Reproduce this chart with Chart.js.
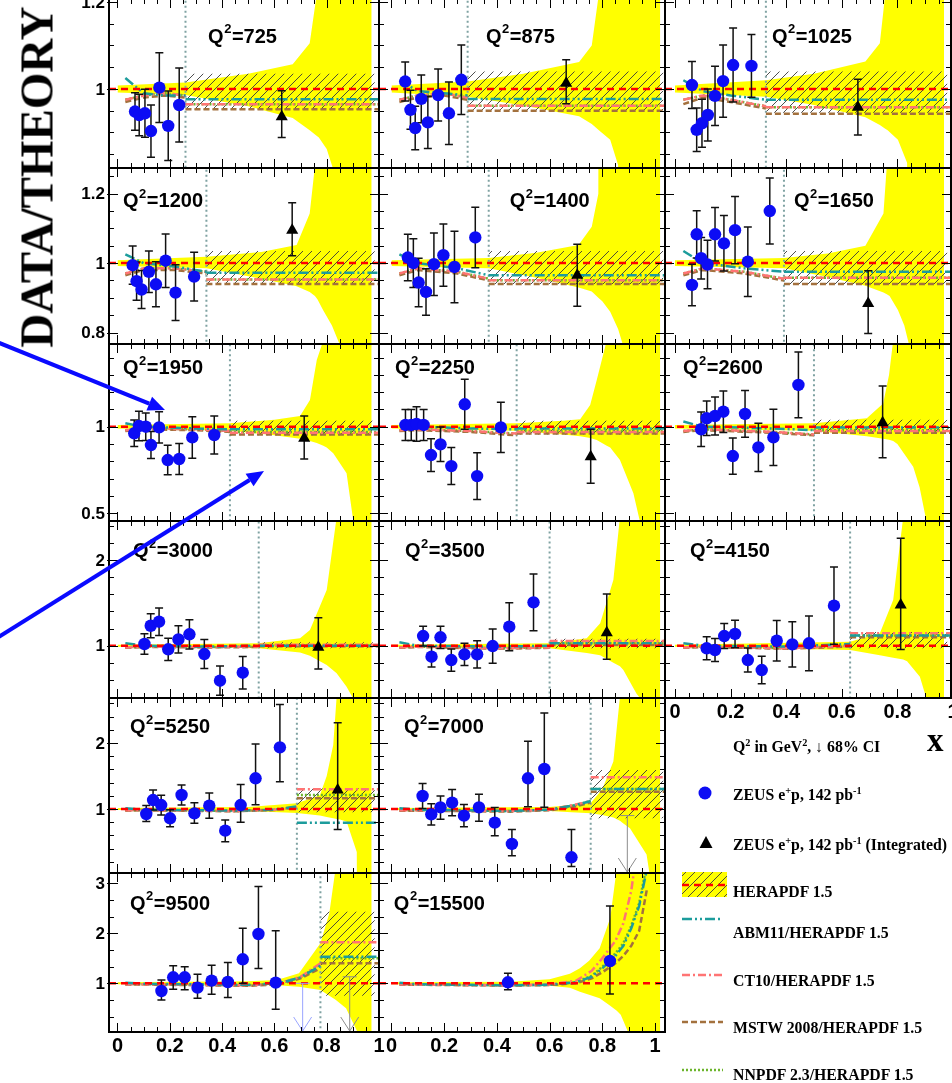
<!DOCTYPE html>
<html>
<head>
<meta charset="utf-8">
<title>ZEUS NC e+p high-x: data / theory</title>
<script src="https://cdn.jsdelivr.net/npm/chart.js@4.4.1/dist/chart.umd.min.js"></script>
<style>
  html, body { margin: 0; padding: 0; background: #fff; }
  body { position: relative; width: 952px; height: 1083px; overflow: hidden; }
  canvas.panel { position: absolute; }
  #overlay, #legendSymbols { position: absolute; pointer-events: none; }
  .lbl { position: absolute; white-space: nowrap; line-height: 1; color: #000; }
  .serif { font-family: "Liberation Serif", "Times New Roman", serif; font-weight: bold; }
  .lbl sup { font-size: 65%; vertical-align: baseline; position: relative; top: -0.55em; }
</style>
</head>
<body>
<script>
// ---- data ----
const q2 = [725, 875, 1025, 1200, 1400, 1650, 1950, 2250, 2600, 3000, 3500, 4150, 5250, 7000, 9500, 15500];
const panelRow = [0, 0, 0, 1, 1, 1, 2, 2, 2, 3, 3, 3, 4, 4, 5, 5];
const panelCol = [0, 1, 2, 0, 1, 2, 0, 1, 2, 0, 1, 2, 0, 1, 0, 1];

// ZEUS e+p points (blue circles)
const zeusX = [
  [0.067, 0.083, 0.105, 0.128, 0.160, 0.194, 0.236],
  [0.052, 0.072, 0.090, 0.113, 0.138, 0.177, 0.218, 0.265],
  [0.061, 0.078, 0.097, 0.118, 0.144, 0.173, 0.209, 0.275],
  [0.058, 0.073, 0.092, 0.120, 0.147, 0.184, 0.222, 0.293],
  [0.062, 0.083, 0.103, 0.131, 0.161, 0.197, 0.239, 0.318],
  [0.061, 0.078, 0.094, 0.117, 0.144, 0.176, 0.216, 0.262, 0.341],
  [0.064, 0.082, 0.108, 0.128, 0.159, 0.192, 0.236, 0.286, 0.370],
  [0.053, 0.075, 0.095, 0.122, 0.150, 0.186, 0.227, 0.278, 0.325, 0.415],
  [0.094, 0.114, 0.144, 0.174, 0.208, 0.252, 0.300, 0.354, 0.444],
  [0.103, 0.127, 0.159, 0.194, 0.233, 0.275, 0.332, 0.392, 0.479],
  [0.120, 0.152, 0.186, 0.227, 0.277, 0.325, 0.384, 0.447, 0.539],
  [0.114, 0.144, 0.177, 0.216, 0.262, 0.312, 0.366, 0.422, 0.482, 0.572],
  [0.110, 0.136, 0.167, 0.201, 0.245, 0.294, 0.351, 0.412, 0.471, 0.528, 0.621],
  [0.118, 0.151, 0.186, 0.230, 0.275, 0.332, 0.392, 0.457, 0.518, 0.580, 0.683],
  [0.168, 0.213, 0.257, 0.306, 0.360, 0.422, 0.479, 0.539, 0.605],
  [0.442, 0.829]
];
const zeusY = [
  [0.948, 0.940, 0.944, 0.903, 1.003, 0.915, 0.963],
  [1.017, 0.952, 0.910, 0.977, 0.923, 0.986, 0.944, 1.021],
  [1.009, 0.906, 0.921, 0.940, 0.984, 1.018, 1.055, 1.053],
  [0.994, 0.948, 0.924, 0.975, 0.939, 1.007, 0.915, 0.961],
  [1.016, 1.000, 0.944, 0.917, 0.997, 1.023, 0.989, 1.074],
  [0.937, 1.083, 1.014, 0.996, 1.083, 1.057, 1.095, 1.004, 1.150],
  [0.962, 1.004, 1.000, 0.894, 0.996, 0.807, 0.813, 0.938, 0.952],
  [1.010, 1.010, 1.016, 1.010, 0.836, 0.898, 0.772, 1.130, 0.714, 0.996],
  [0.985, 1.049, 1.062, 1.087, 0.830, 1.074, 0.880, 0.938, 1.242],
  [1.020, 1.233, 1.280, 0.958, 1.074, 1.133, 0.903, 0.592, 0.685],
  [1.113, 0.872, 1.098, 0.833, 0.899, 0.899, 0.996, 1.222, 1.506],
  [0.970, 0.950, 1.113, 1.137, 0.833, 0.716, 1.058, 1.016, 1.028, 1.467],
  [0.924, 1.136, 1.060, 0.859, 1.212, 0.934, 1.051, 0.672, 1.060, 1.465, 1.934],
  [1.197, 0.919, 1.025, 1.096, 0.899, 1.025, 0.793, 0.470, 1.465, 1.606, 0.268],
  [0.846, 1.120, 1.120, 0.913, 1.053, 1.026, 1.480, 1.986, 1.013],
  [1.020, 1.446]
];
const zeusErrUp = [
  [0.043, 0.048, 0.055, 0.060, 0.080, 0.080, 0.085],
  [0.045, 0.045, 0.050, 0.055, 0.060, 0.060, 0.072, 0.080],
  [0.054, 0.050, 0.055, 0.060, 0.068, 0.083, 0.085, 0.072],
  [0.055, 0.055, 0.055, 0.060, 0.065, 0.077, 0.080, 0.070],
  [0.067, 0.070, 0.070, 0.067, 0.090, 0.090, 0.103, 0.087],
  [0.060, 0.068, 0.060, 0.070, 0.077, 0.080, 0.097, 0.100, 0.095],
  [0.077, 0.085, 0.080, 0.078, 0.090, 0.085, 0.090, 0.120, 0.110],
  [0.090, 0.090, 0.100, 0.090, 0.095, 0.100, 0.107, 0.145, 0.135, 0.145],
  [0.100, 0.100, 0.110, 0.120, 0.105, 0.135, 0.140, 0.163, 0.190],
  [0.120, 0.140, 0.160, 0.130, 0.160, 0.170, 0.170, 0.170, 0.190],
  [0.115, 0.120, 0.130, 0.130, 0.130, 0.160, 0.200, 0.280, 0.330],
  [0.135, 0.135, 0.145, 0.160, 0.140, 0.160, 0.235, 0.265, 0.320, 0.450],
  [0.130, 0.150, 0.150, 0.130, 0.150, 0.160, 0.190, 0.160, 0.310, 0.520, 0.650],
  [0.190, 0.160, 0.170, 0.200, 0.170, 0.200, 0.230, 0.220, 0.560, 0.850, 0.420],
  [0.220, 0.230, 0.210, 0.270, 0.310, 0.390, 0.620, 0.950, 1.040],
  [0.180, 1.100]
];
// lower errors where they differ from the upper ones (null = symmetric)
const zeusErrDn = [
  null, null, null, null, null, null, null, null, null, null, null, null,
  [0.115, 0.150, 0.150, 0.130, 0.150, 0.150, 0.190, 0.170, 0.260, 0.400, 0.520],
  [0.190, 0.160, 0.180, 0.200, 0.170, 0.210, 0.200, 0.180, 0.430, 0.580, 0.140],
  [0.180, 0.240, 0.250, 0.210, 0.270, 0.310, 0.480, 0.690, 0.530],
  [0.150, 0.660]
];

// integrated high-x bin (black triangles)
const intX = [0.628, 0.663, 0.658, 0.668, 0.705, 0.695, 0.714, 0.756, 0.747, 0.768, 0.817, 0.812, 0.842, null, null, null];
const intY = [0.936, 1.013, 0.958, 1.095, 0.965, 0.884, 0.933, 0.826, 1.023, 0.981, 1.152, 1.475, 1.288, null, null, null];
const intErrUp = [0.060, 0.054, 0.064, 0.079, 0.089, 0.094, 0.129, 0.159, 0.213, 0.346, 0.450, 0.780, 1.020, null, null, null];
const intErrDn = [0.048, 0.047, 0.064, 0.074, 0.089, 0.087, 0.120, 0.154, 0.203, 0.253, 0.310, 0.520, 0.600, null, null, null];

// 68% CI upper limits (arrows)
const limitX = [[], [], [], [], [], [], [], [], [], [], [], [], [], [0.895], [0.708, 0.888], []];
const limitY = [[], [], [], [], [], [], [], [], [], [], [], [], [], [0.90], [1.0, 1.13], []];
const limitKind = [[], [], [], [], [], [], [], [], [], [], [], [], [], ['int'], ['bin', 'int'], []];

// start of the integrated bin (dotted line)
const xCut = [0.26, 0.289, 0.327, 0.34, 0.369, 0.392, 0.43, 0.475, 0.50, 0.54, 0.60, 0.63, 0.686, 0.756, 0.776, null];

// HERAPDF 1.5 uncertainty band (yellow)
const bandX = [
  [0, 0.26, 0.5, 0.67, 0.735, 0.76, 0.77, 0.8, 0.825, 0.84, 0.972],
  [0, 0.289, 0.5, 0.712, 0.76, 0.785, 0.795, 0.83, 0.86, 0.875, 1.02],
  [0, 0.327, 0.5, 0.685, 0.737, 0.755, 0.765, 0.802, 0.835, 0.845, 0.968],
  [0, 0.34, 0.55, 0.685, 0.735, 0.755, 0.765, 0.786, 0.82, 0.85, 0.86, 0.972],
  [0, 0.369, 0.55, 0.71, 0.76, 0.785, 0.8, 0.83, 0.86, 0.878, 0.89, 1.02],
  [0, 0.392, 0.55, 0.685, 0.75, 0.762, 0.772, 0.802, 0.825, 0.842, 0.855, 0.968],
  [0, 0.43, 0.6, 0.698, 0.736, 0.762, 0.787, 0.8, 0.825, 0.876, 0.902, 0.915, 0.972],
  [0, 0.475, 0.65, 0.716, 0.754, 0.779, 0.817, 0.83, 0.867, 0.918, 0.943, 0.955, 1.02],
  [0, 0.5, 0.69, 0.749, 0.77, 0.785, 0.8, 0.857, 0.88, 0.905, 0.915, 0.968],
  [0, 0.54, 0.698, 0.736, 0.8, 0.838, 0.85, 0.876, 0.902, 0.915, 0.972],
  [0, 0.6, 0.741, 0.792, 0.842, 0.867, 0.88, 0.93, 0.945, 0.955, 1.02],
  [0, 0.63, 0.737, 0.785, 0.821, 0.835, 0.881, 0.905, 0.915, 0.968],
  [0, 0.5, 0.686, 0.774, 0.8, 0.825, 0.838, 0.85, 0.876, 0.915, 0.925, 0.972],
  [0, 0.6, 0.683, 0.756, 0.8, 0.842, 0.867, 0.88, 0.905, 0.968, 0.98, 0.99, 1.02],
  [0, 0.5, 0.61, 0.694, 0.776, 0.81, 0.834, 0.874, 0.92, 0.93, 0.972],
  [0, 0.45, 0.6, 0.677, 0.715, 0.75, 0.79, 0.83, 0.855, 0.87, 0.9, 0.91, 1.02]
];
const bandHi = [
  [1.008, 1.015, 1.035, 1.057, 1.105, 1.21, 9, 9, 9, 9, 9],
  [1.008, 1.017, 1.035, 1.062, 1.1, 1.21, 9, 9, 9, 9, 9],
  [1.008, 1.02, 1.035, 1.063, 1.105, 1.21, 9, 9, 9, 9, 9],
  [1.008, 1.018, 1.032, 1.052, 1.143, 1.28, 9, 9, 9, 9, 9, 9],
  [1.008, 1.015, 1.03, 1.052, 1.105, 1.2, 9, 9, 9, 9, 9, 9],
  [1.008, 1.015, 1.028, 1.05, 1.143, 1.28, 9, 9, 9, 9, 9, 9],
  [1.01, 1.02, 1.04, 1.062, 1.155, 1.386, 1.5, 9, 9, 9, 9, 9, 9],
  [1.01, 1.02, 1.035, 1.043, 1.126, 1.27, 1.5, 9, 9, 9, 9, 9, 9],
  [1.01, 1.02, 1.049, 1.135, 1.3, 1.5, 9, 9, 9, 9, 9, 9],
  [1.012, 1.03, 1.086, 1.183, 1.65, 2.5, 9, 9, 9, 9, 9],
  [1.012, 1.03, 1.086, 1.261, 1.767, 2.5, 9, 9, 9, 9, 9],
  [1.012, 1.047, 1.145, 1.533, 2.5, 9, 9, 9, 9, 9],
  [1.015, 1.03, 1.086, 1.21, 1.5, 1.97, 2.7, 9, 9, 9, 9, 9],
  [1.015, 1.03, 1.06, 1.09, 1.3, 1.72, 2.7, 9, 9, 9, 9, 9, 9],
  [1.02, 1.04, 1.066, 1.2, 1.8, 2.4, 3.3, 9, 9, 9, 9],
  [1.02, 1.03, 1.08, 1.19, 1.3, 1.45, 1.7, 2.3, 3.3, 9, 9, 9, 9]
];
const bandLo = [
  [0.992, 0.986, 0.96, 0.933, 0.905, 0.893, 0.888, 0.862, 0.815, -9, -9],
  [0.992, 0.982, 0.962, 0.937, 0.919, 0.906, 0.901, 0.883, 0.825, -9, -9],
  [0.992, 0.982, 0.963, 0.935, 0.917, 0.909, 0.905, 0.883, 0.83, -9, -9],
  [0.992, 0.985, 0.955, 0.933, 0.917, 0.905, 0.895, 0.865, 0.82, 0.765, -9, -9],
  [0.992, 0.985, 0.958, 0.93, 0.918, 0.9, 0.89, 0.86, 0.81, 0.765, -9, -9],
  [0.992, 0.985, 0.96, 0.935, 0.915, 0.91, 0.905, 0.865, 0.82, 0.765, -9, -9],
  [0.99, 0.977, 0.95, 0.93, 0.918, 0.905, 0.89, 0.88, 0.846, 0.73, 0.45, -9, -9],
  [0.99, 0.977, 0.955, 0.945, 0.935, 0.923, 0.89, 0.88, 0.807, 0.614, 0.45, -9, -9],
  [0.99, 0.977, 0.945, 0.93, 0.925, 0.918, 0.9, 0.768, 0.65, 0.45, -9, -9],
  [0.988, 0.97, 0.92, 0.882, 0.774, 0.68, 0.63, 0.52, 0.38, -9, -9],
  [0.988, 0.97, 0.915, 0.89, 0.8, 0.76, 0.716, 0.44, 0.38, -9, -9],
  [0.988, 0.95, 0.89, 0.86, 0.84, 0.82, 0.638, 0.38, -9, -9],
  [0.985, 0.97, 0.94, 0.9, 0.88, 0.86, 0.85, 0.84, 0.81, 0.35, -9, -9],
  [0.985, 0.97, 0.95, 0.935, 0.91, 0.87, 0.82, 0.78, 0.71, 0.31, 0.0, -9, -9],
  [0.98, 0.97, 0.96, 0.93, 0.866, 0.75, 0.67, 0.5, 0.0, -9, -9],
  [0.98, 0.97, 0.95, 0.91, 0.83, 0.77, 0.7, 0.55, 0.45, 0.37, 0.0, -9, -9]
];

// hatched HERAPDF uncertainty of the integrated bin
const hatchLo = [0.953, 0.95, 0.945, 0.94, 0.94, 0.94, 0.95, 0.955, 0.96, 0.97, 0.97, 0.97, 0.95, 0.86, 0.75, null];
const hatchHi = [1.035, 1.04, 1.04, 1.035, 1.035, 1.035, 1.035, 1.035, 1.04, 1.04, 1.08, 1.16, 1.31, 1.59, 2.43, null];

// other PDFs divided by HERAPDF 1.5, per-bin part (below the cut)
const theoryX = [
  [0.03, 0.10, 0.18, 0.26],
  [0.03, 0.10, 0.20, 0.289],
  [0.03, 0.10, 0.20, 0.327],
  [0.03, 0.10, 0.22, 0.34],
  [0.03, 0.10, 0.25, 0.369],
  [0.03, 0.10, 0.25, 0.392],
  [0.03, 0.10, 0.30, 0.43],
  [0.03, 0.10, 0.30, 0.475],
  [0.03, 0.10, 0.35, 0.50],
  [0.03, 0.10, 0.35, 0.54],
  [0.03, 0.10, 0.40, 0.60],
  [0.03, 0.10, 0.40, 0.63],
  [0.03, 0.10, 0.45, 0.60, 0.686],
  [0.03, 0.10, 0.45, 0.60, 0.70, 0.756],
  [0.03, 0.10, 0.50, 0.62, 0.70, 0.776],
  [0.03, 0.10, 0.45, 0.60, 0.70, 0.76, 0.80, 0.85, 0.88, 0.91, 0.94, 0.97]
];
const abmY = [
  [1.025, 0.990, 0.985, 0.985],
  [1.020, 0.995, 0.990, 0.985],
  [1.020, 0.995, 0.985, 0.975],
  [1.025, 1.000, 0.990, 0.975],
  [1.025, 1.000, 0.985, 0.965],
  [1.035, 1.000, 0.985, 0.975],
  [1.020, 1.000, 0.990, 0.985],
  [1.010, 1.000, 0.990, 0.985],
  [1.030, 1.000, 0.990, 0.980],
  [1.030, 1.000, 0.990, 1.000],
  [1.040, 1.000, 0.990, 1.000],
  [1.030, 1.000, 0.990, 1.020],
  [1.010, 0.990, 0.975, 0.990, 1.040],
  [1.010, 0.990, 0.970, 0.990, 1.060, 1.120],
  [1.010, 0.990, 0.970, 1.000, 1.120, 1.350],
  [1.010, 0.980, 0.960, 0.970, 1.020, 1.130, 1.300, 1.550, 1.750, 2.100, 2.550, 3.300]
];
const ct10Y = [
  [0.975, 0.985, 0.990, 0.985],
  [0.975, 0.985, 0.990, 0.980],
  [0.975, 0.985, 0.975, 0.960],
  [0.970, 0.985, 0.985, 0.975],
  [0.970, 0.985, 0.975, 0.955],
  [0.970, 0.985, 0.975, 0.955],
  [0.980, 0.990, 0.985, 0.975],
  [0.980, 0.985, 0.975, 0.960],
  [0.975, 0.985, 0.970, 0.955],
  [0.980, 0.990, 0.985, 0.990],
  [0.980, 0.990, 0.970, 0.980],
  [0.980, 0.990, 0.970, 1.000],
  [0.980, 0.985, 0.970, 0.990, 1.030],
  [0.980, 0.980, 0.970, 0.990, 1.070, 1.120],
  [0.980, 0.980, 0.960, 1.000, 1.130, 1.400],
  [0.980, 0.975, 0.960, 0.980, 1.050, 1.250, 1.500, 1.850, 2.200, 2.850, 4.000, 5.000]
];
const mstwY = [
  [0.970, 0.980, 0.985, 0.980],
  [0.970, 0.980, 0.985, 0.975],
  [0.965, 0.980, 0.970, 0.955],
  [0.965, 0.980, 0.980, 0.970],
  [0.965, 0.980, 0.970, 0.950],
  [0.965, 0.980, 0.970, 0.950],
  [0.975, 0.985, 0.980, 0.970],
  [0.975, 0.980, 0.970, 0.950],
  [0.970, 0.980, 0.965, 0.950],
  [0.975, 0.985, 0.980, 0.985],
  [0.975, 0.985, 0.965, 0.975],
  [0.975, 0.985, 0.965, 0.990],
  [0.975, 0.980, 0.965, 0.985, 1.020],
  [0.975, 0.975, 0.960, 0.980, 1.040, 1.100],
  [0.975, 0.975, 0.950, 0.980, 1.100, 1.300],
  [0.975, 0.970, 0.955, 0.965, 1.000, 1.100, 1.220, 1.400, 1.550, 1.750, 2.050, 2.900]
];
const nnpdfY = [
  [0.975, 0.985, 0.990, 0.985],
  [0.975, 0.985, 0.990, 0.980],
  [0.975, 0.985, 0.975, 0.960],
  [0.970, 0.985, 0.985, 0.975],
  [0.970, 0.985, 0.975, 0.955],
  [0.970, 0.985, 0.975, 0.955],
  [0.980, 0.990, 0.985, 0.975],
  [0.980, 0.985, 0.975, 0.960],
  [0.975, 0.985, 0.970, 0.955],
  [0.980, 0.990, 0.985, 0.990],
  [0.980, 0.990, 0.970, 0.980],
  [0.980, 0.990, 0.970, 1.000],
  [0.980, 0.985, 0.970, 0.990, 1.030],
  [0.980, 0.980, 0.970, 0.990, 1.060, 1.120],
  [0.980, 0.980, 0.960, 1.000, 1.120, 1.380],
  [0.980, 0.975, 0.960, 0.970, 1.020, 1.150, 1.330, 1.600, 1.800, 2.150, 2.600, 3.400]
];
// value in the integrated bin (above the cut)
const abmFlat   = [0.976, 0.977, 0.975, 0.972, 0.965, 0.975, 0.985, 0.990, 0.995, 1.000, 1.030, 1.120, 0.793, 1.303, 1.533, null];
const ct10Flat  = [0.965, 0.961, 0.958, 0.953, 0.951, 0.958, 0.965, 0.970, 0.975, 1.010, 1.055, 1.145, 1.298, 1.480, 1.820, null];
const mstwFlat  = [0.953, 0.950, 0.943, 0.940, 0.940, 0.940, 0.955, 0.960, 0.965, 0.995, 1.008, 1.100, 1.162, 1.263, 1.400, null];
const nnpdfFlat = [0.965, 0.961, 0.958, 0.953, 0.951, 0.958, 0.970, 0.975, 0.980, 1.005, 1.030, 1.120, 1.212, 1.303, 1.500, null];

// axes
const colXMin = [-0.0325, -0.0474, -0.036];
const colXMax = [1.0, 1.038, 0.993];
const rowYMin = [0.818, 0.767, 0.454, 0.39, 0.03, 0.026];
const rowYMax = [1.207, 1.274, 1.479, 2.455, 2.682, 3.206];
const rowYMajor = [[0.8, 1, 1.2], [0.8, 1, 1.2], [0.5, 1], [1, 2], [1, 2], [1, 2, 3]];
const rowYMinor = [0.05, 0.05, 0.1, 0.2, 0.2, 1 / 3];
const xTickValues = [0, 0.2, 0.4, 0.6, 0.8, 1];
const bottomPanelOfCol = [14, 15, 11];

const legendLabels = [
  'Q<sup>2</sup> in GeV<sup>2</sup>, \u2193 68% CI',
  'ZEUS e<sup>+</sup>p, 142 pb<sup>-1</sup>',
  'ZEUS e<sup>+</sup>p, 142 pb<sup>-1</sup> (Integrated)',
  'HERAPDF 1.5',
  'ABM11/HERAPDF 1.5',
  'CT10/HERAPDF 1.5',
  'MSTW 2008/HERAPDF 1.5',
  'NNPDF 2.3/HERAPDF 1.5'
];

// ---- page geometry ----
const colLeft = [109, 379, 665], colRight = [379, 665, 951];
const rowTop = [-1, 168, 344, 521, 698, 873], rowBottom = [168, 344, 521, 698, 873, 1032];
const labelPos = [[.367, .23], [.374, .23], [.374, .23], [.052, .193], [.457, .193], [.451, .193],
  [.052, .141], [.056, .141], [.063, .141], [.089, .175], [.091, .175], [.087, .175],
  [.078, .171], [.087, .171], [.078, .2], [.052, .2]];
const PAD = { left: 48, right: 8, top: 8, bottom: 36 };

const SANS = '"Liberation Sans", Arial, Helvetica, sans-serif';
const COLORS = { band: '#ffff00', zeus: '#0c0cf4', hera: '#ff0000', abm: '#1c9c9c', ct10: '#ff7474', mstw: '#a3713e', nnpdf: '#6cb52c', cut: '#7fa2a2' };
const DASH = { hera: [7, 5], abm: [10, 3, 2, 3, 2, 3], ct10: [8, 3, 2, 3], mstw: [6, 3], nnpdf: [2, 2] };

function makeHatch() {
  const s = 9;
  const c = document.createElement('canvas');
  c.width = s; c.height = s;
  const g = c.getContext('2d');
  g.strokeStyle = '#3a3a3a';
  g.lineWidth = 0.9;
  g.beginPath();
  g.moveTo(0, s); g.lineTo(s, 0);
  g.moveTo(-1, 1); g.lineTo(1, -1);
  g.moveTo(s - 1, s + 1); g.lineTo(s + 1, s - 1);
  g.stroke();
  return g.createPattern(c, 'repeat');
}
const hatchPattern = makeHatch();

// error bars, limit arrows, frame, ticks and labels
const panelDecor = {
  id: 'panelDecor',
  beforeDatasetDraw(chart, args) {
    const ds = chart.data.datasets[args.index];
    if (!ds.errUp) return;
    const ctx = chart.ctx, xs = chart.scales.x, ys = chart.scales.y, a = chart.chartArea;
    ctx.save();
    ctx.beginPath();
    ctx.rect(a.left, a.top, a.right - a.left, a.bottom - a.top);
    ctx.clip();
    ctx.strokeStyle = '#111';
    ctx.lineWidth = 1.5;
    ds.data.forEach((pt, i) => {
      const px = xs.getPixelForValue(pt.x);
      const yHi = ys.getPixelForValue(pt.y + ds.errUp[i]);
      const yLo = ys.getPixelForValue(pt.y - ds.errDn[i]);
      ctx.beginPath();
      ctx.moveTo(px, yLo); ctx.lineTo(px, yHi);
      ctx.moveTo(px - 4, yLo); ctx.lineTo(px + 4, yLo);
      ctx.moveTo(px - 4, yHi); ctx.lineTo(px + 4, yHi);
      ctx.stroke();
    });
    ctx.restore();
  },
  afterDatasetsDraw(chart, args, opts) {
    const p = opts.p;
    const ctx = chart.ctx, xs = chart.scales.x, ys = chart.scales.y, a = chart.chartArea;
    ctx.save();
    ctx.lineWidth = 1;
    limitX[p].forEach((lx, i) => {
      const px = xs.getPixelForValue(lx), py = ys.getPixelForValue(limitY[p][i]);
      ctx.strokeStyle = limitKind[p][i] === 'bin' ? '#9aa5ff' : '#8c8c8c';
      ctx.beginPath();
      ctx.moveTo(px - 7, py); ctx.lineTo(px + 7, py);
      ctx.moveTo(px, py); ctx.lineTo(px, a.bottom - 1);
      ctx.moveTo(px - 9, a.bottom - 15); ctx.lineTo(px, a.bottom - 1); ctx.lineTo(px + 9, a.bottom - 15);
      ctx.stroke();
    });
    ctx.restore();
  },
  afterDraw(chart, args, opts) {
    const p = opts.p, r = panelRow[p], c = panelCol[p];
    const ctx = chart.ctx, xs = chart.scales.x, ys = chart.scales.y, a = chart.chartArea;
    ctx.save();
    ctx.strokeStyle = '#000';
    ctx.lineWidth = 1;
    ctx.beginPath();
    for (let k = 0; k <= 20; k++) {
      const px = Math.round(xs.getPixelForValue(k * 0.05)) + 0.5;
      if (px < a.left || px > a.right) continue;
      const len = k % 4 === 0 ? 9 : 5;
      ctx.moveTo(px, a.bottom); ctx.lineTo(px, a.bottom - len);
      ctx.moveTo(px, a.top); ctx.lineTo(px, a.top + len);
    }
    const step = rowYMinor[r];
    for (let k = Math.ceil(rowYMin[r] / step - 1e-9); k * step <= rowYMax[r] + 1e-9; k++) {
      const v = k * step;
      const py = Math.round(ys.getPixelForValue(v)) + 0.5;
      const major = rowYMajor[r].some(m => Math.abs(m - v) < 1e-6);
      const len = major ? 9 : 5;
      ctx.moveTo(a.left - (major ? 2 : 0), py); ctx.lineTo(a.left + len, py);
      ctx.moveTo(a.right, py); ctx.lineTo(a.right - len, py);
    }
    ctx.stroke();
    ctx.lineWidth = 2;
    ctx.strokeRect(a.left, a.top, a.right - a.left, a.bottom - a.top);

    ctx.fillStyle = '#000';
    if (c === 0) {
      ctx.font = 'bold 17px ' + SANS;
      ctx.textAlign = 'right';
      ctx.textBaseline = 'middle';
      rowYMajor[r].forEach(m => {
        if (m < rowYMin[r] - 0.01 || m > rowYMax[r] + 0.01) return;
        ctx.fillText(String(m), a.left - 4, ys.getPixelForValue(m) + 1);
      });
    }
    if (bottomPanelOfCol[c] === p) {
      ctx.font = 'bold 20px ' + SANS;
      ctx.textAlign = 'center';
      ctx.textBaseline = 'top';
      xTickValues.forEach(v => ctx.fillText(String(v), xs.getPixelForValue(v), a.bottom + 4));
    }
    // Q^2 label
    const lx = a.left + labelPos[p][0] * (a.right - a.left);
    const ly = a.top + labelPos[p][1] * (a.bottom - a.top);
    ctx.textAlign = 'left';
    ctx.textBaseline = 'middle';
    ctx.font = 'bold 20px ' + SANS;
    ctx.fillText('Q', lx, ly);
    const wQ = ctx.measureText('Q').width;
    ctx.font = 'bold 13px ' + SANS;
    ctx.fillText('2', lx + wQ + 0.5, ly - 8);
    const w2 = ctx.measureText('2').width;
    ctx.font = 'bold 20px ' + SANS;
    ctx.fillText('=' + q2[p], lx + wQ + w2 + 1, ly);
    ctx.restore();
  }
};

function lineDs(label, data, color, dash, order) {
  return { label, data, borderColor: color, borderDash: dash, borderWidth: 2.5, pointRadius: 0,
    fill: false, tension: 0, spanGaps: false, clip: 0, order };
}

function panelDatasets(p) {
  const c = panelCol[p];
  const xEnd = colXMax[c];
  const ds = [];
  ds.push({ label: 'ZEUS e+p', data: zeusX[p].map((x, i) => ({ x, y: zeusY[p][i] })),
    errUp: zeusErrUp[p], errDn: zeusErrDn[p] || zeusErrUp[p], showLine: false,
    pointStyle: 'circle', pointRadius: 6.2, pointBackgroundColor: COLORS.zeus, pointBorderWidth: 0, order: 0 });
  if (intX[p] !== null) {
    ds.push({ label: 'ZEUS e+p (Integrated)', data: [{ x: intX[p], y: intY[p] }],
      errUp: [intErrUp[p]], errDn: [intErrDn[p]], showLine: false,
      pointStyle: 'triangle', pointRadius: 7, pointBackgroundColor: '#000', pointBorderWidth: 0, order: 1 });
  }
  ds.push(lineDs('HERAPDF 1.5', [{ x: colXMin[c], y: 1 }, { x: xEnd, y: 1 }], COLORS.hera, DASH.hera, 3));
  const models = [
    ['ABM11', abmY, abmFlat, COLORS.abm, DASH.abm, 4],
    ['CT10', ct10Y, ct10Flat, COLORS.ct10, DASH.ct10, 5],
    ['MSTW 2008', mstwY, mstwFlat, COLORS.mstw, DASH.mstw, 6],
    ['NNPDF 2.3', nnpdfY, nnpdfFlat, COLORS.nnpdf, DASH.nnpdf, 7]
  ];
  models.forEach(([name, ys, flat, color, dash, order]) => {
    const pts = theoryX[p].map((x, i) => ({ x, y: ys[p][i] }));
    if (xCut[p] !== null) {
      pts.push({ x: xCut[p], y: null }, { x: xCut[p], y: flat[p] }, { x: xEnd, y: flat[p] });
    }
    ds.push(lineDs(name, pts, color, dash, order));
  });
  if (xCut[p] !== null) {
    ds.push({ label: 'cut', data: [{ x: xCut[p], y: -10 }, { x: xCut[p], y: 10 }], borderColor: COLORS.cut,
      borderDash: [2, 3], borderWidth: 2, pointRadius: 0, fill: false, clip: 0, order: 8 });
  }
  if (hatchHi[p] !== null) {
    const hx1 = bandX[p][bandX[p].length - 1] + 0.012;
    ds.push({ label: 'hatchHi', data: [{ x: xCut[p], y: hatchHi[p] }, { x: hx1, y: hatchHi[p] }],
      fill: '+1', backgroundColor: hatchPattern, borderColor: 'rgba(0,0,0,0)', borderWidth: 0, pointRadius: 0, clip: 0, order: 9 });
    ds.push({ label: 'hatchLo', data: [{ x: xCut[p], y: hatchLo[p] }, { x: hx1, y: hatchLo[p] }],
      fill: false, borderColor: 'rgba(0,0,0,0)', borderWidth: 0, pointRadius: 0, clip: 0, order: 9 });
  }
  ds.push({ label: 'bandHi', data: bandX[p].map((x, i) => ({ x, y: bandHi[p][i] })),
    fill: '+1', backgroundColor: COLORS.band, borderColor: 'rgba(0,0,0,0)', borderWidth: 0, pointRadius: 0, tension: 0, clip: 0, order: 10 });
  ds.push({ label: 'bandLo', data: bandX[p].map((x, i) => ({ x, y: bandLo[p][i] })),
    fill: false, borderColor: 'rgba(0,0,0,0)', borderWidth: 0, pointRadius: 0, tension: 0, clip: 0, order: 10 });
  return ds;
}

q2.forEach((q, p) => {
  const r = panelRow[p], c = panelCol[p];
  const L = colLeft[c], R = colRight[c], T = rowTop[r], B = rowBottom[r];
  const cv = document.createElement('canvas');
  cv.className = 'panel';
  cv.width = R - L + PAD.left + PAD.right;
  cv.height = B - T + PAD.top + PAD.bottom;
  cv.style.left = (L - PAD.left) + 'px';
  cv.style.top = (T - PAD.top) + 'px';
  document.body.appendChild(cv);
  new Chart(cv, {
    type: 'line',
    data: { datasets: panelDatasets(p) },
    options: {
      responsive: false,
      animation: false,
      devicePixelRatio: 1,
      events: [],
      layout: { padding: PAD },
      scales: {
        x: { type: 'linear', bounds: 'data', min: colXMin[c], max: colXMax[c], display: false },
        y: { type: 'linear', bounds: 'data', min: rowYMin[r], max: rowYMax[r], display: false }
      },
      plugins: { legend: { display: false }, tooltip: { enabled: false }, panelDecor: { p } }
    },
    plugins: [panelDecor]
  });
});

// ---- axis titles and legend ----
function addLabel(html, left, top, size, extraStyle) {
  const d = document.createElement('div');
  d.className = 'lbl serif';
  d.innerHTML = html;
  d.style.left = left + 'px';
  d.style.top = top + 'px';
  d.style.fontSize = size + 'px';
  if (extraStyle) d.style.cssText += extraStyle;
  document.body.appendChild(d);
  return d;
}
addLabel('DATA/THEORY', 37, 177, 47, 'transform: translate(-50%, -50%) rotate(-90deg);');
addLabel('x', 927, 724, 33);
const legendCenters = [747, 795, 845, 892, 933, 981, 1028, 1075];
legendLabels.forEach((t, i) => addLabel(t, 733, legendCenters[i] - 8, 15.8));

const lg = document.createElement('canvas');
lg.id = 'legendSymbols';
lg.width = 292; lg.height = 383;
lg.style.left = '660px'; lg.style.top = '700px';
document.body.appendChild(lg);
(function drawLegendSymbols() {
  const g = lg.getContext('2d');
  g.fillStyle = COLORS.zeus;
  g.beginPath(); g.arc(45, 93, 6.5, 0, Math.PI * 2); g.fill();
  g.fillStyle = '#000';
  g.beginPath(); g.moveTo(46, 136); g.lineTo(52.5, 148); g.lineTo(39.5, 148); g.closePath(); g.fill();
  g.fillStyle = COLORS.band; g.fillRect(22, 172, 45, 25);
  g.fillStyle = hatchPattern; g.fillRect(22, 172, 45, 25);
  const seg = (y, color, dash, x1) => {
    g.save(); g.strokeStyle = color; g.setLineDash(dash); g.lineWidth = 2.5;
    g.beginPath(); g.moveTo(22, y); g.lineTo(x1, y); g.stroke(); g.restore();
  };
  seg(185, COLORS.hera, DASH.hera, 67);
  seg(219, COLORS.abm, DASH.abm, 63);
  seg(275, COLORS.ct10, DASH.ct10, 63);
  seg(322, COLORS.mstw, DASH.mstw, 63);
  seg(370, COLORS.nnpdf, DASH.nnpdf, 63);
})();

// annotation arrows drawn over the figure
const ov = document.createElement('canvas');
ov.id = 'overlay';
ov.width = 952; ov.height = 1083;
ov.style.left = '0px'; ov.style.top = '0px';
document.body.appendChild(ov);
(function drawArrows() {
  const g = ov.getContext('2d');
  g.strokeStyle = '#0a0aff';
  g.fillStyle = '#0a0aff';
  g.lineWidth = 4.2;
  const arrow = (x0, y0, x1, y1) => {
    const ang = Math.atan2(y1 - y0, x1 - x0), head = 17, half = 7.5;
    const bx = x1 - head * Math.cos(ang), by = y1 - head * Math.sin(ang);
    g.beginPath(); g.moveTo(x0, y0); g.lineTo(bx, by); g.stroke();
    g.beginPath();
    g.moveTo(x1, y1);
    g.lineTo(bx + half * Math.sin(ang), by - half * Math.cos(ang));
    g.lineTo(bx - half * Math.sin(ang), by + half * Math.cos(ang));
    g.closePath(); g.fill();
  };
  arrow(-3, 342, 165, 410);
  arrow(-3, 638, 264, 471);
})();
</script>
</body>
</html>
